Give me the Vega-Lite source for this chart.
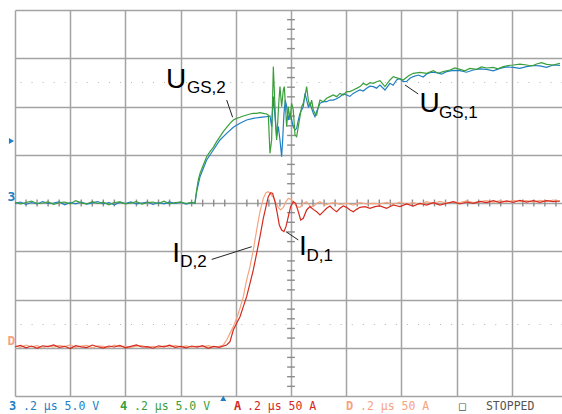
{
"$schema": "https://vega.github.io/schema/vega-lite/v6.json",
"width": 547, "height": 386,
"autosize": {"type": "none"},
"padding": {"left": 15, "top": 10, "right": 0, "bottom": 18},
"background": "white",
"config": {"view": {"stroke": null}, "axis": {"title": null, "labels": false, "domain": false, "ticks": false, "grid": false}},
"datasets": {
"volt": [
{"ch":"3","t":0,"v":-0.05},{"ch":"3","t":20,"v":0.1},{"ch":"3","t":40,"v":-0.15},{"ch":"3","t":60,"v":0.05},{"ch":"3","t":80,"v":-0.1},{"ch":"3","t":100,"v":0.15},{"ch":"3","t":120,"v":-0.05},{"ch":"3","t":140,"v":0},{"ch":"3","t":160,"v":0.12},{"ch":"3","t":180,"v":-0.18},{"ch":"3","t":200,"v":0.05},{"ch":"3","t":220,"v":-0.08},{"ch":"3","t":240,"v":0.1},{"ch":"3","t":260,"v":-0.12},{"ch":"3","t":280,"v":0.02},{"ch":"3","t":300,"v":0.15},{"ch":"3","t":320,"v":-0.1},{"ch":"3","t":340,"v":0.05},{"ch":"3","t":360,"v":-0.2},{"ch":"3","t":380,"v":0.08},{"ch":"3","t":400,"v":-0.05},{"ch":"3","t":420,"v":0.12},{"ch":"3","t":440,"v":-0.1},{"ch":"3","t":460,"v":0},{"ch":"3","t":480,"v":0.1},{"ch":"3","t":500,"v":-0.15},{"ch":"3","t":520,"v":0.05},{"ch":"3","t":540,"v":-0.08},{"ch":"3","t":560,"v":0.12},{"ch":"3","t":580,"v":-0.05},{"ch":"3","t":600,"v":0.08},{"ch":"3","t":620,"v":-0.12},{"ch":"3","t":640,"v":0.03},
{"ch":"3","t":652.1,"v":-0.03},{"ch":"3","t":658.2,"v":1.18},{"ch":"3","t":670.3,"v":2.73},{"ch":"3","t":694.4,"v":4.46},{"ch":"3","t":718.6,"v":5.49},{"ch":"3","t":742.7,"v":6.53},{"ch":"3","t":766.9,"v":7.22},{"ch":"3","t":791,"v":7.84},{"ch":"3","t":815.2,"v":8.26},{"ch":"3","t":839.3,"v":8.6},{"ch":"3","t":863.5,"v":8.77},{"ch":"3","t":887.6,"v":8.88},{"ch":"3","t":911.8,"v":8.95},{"ch":"3","t":923.9,"v":9.02},{"ch":"3","t":929.9,"v":7.91},{"ch":"3","t":936,"v":11.02},{"ch":"3","t":942,"v":8.95},{"ch":"3","t":948,"v":6.87},{"ch":"3","t":954.1,"v":7.91},{"ch":"3","t":960.1,"v":6.53},{"ch":"3","t":966.1,"v":4.8},{"ch":"3","t":969.8,"v":6.53},{"ch":"3","t":974.6,"v":9.29},{"ch":"3","t":979.4,"v":10.67},{"ch":"3","t":984.3,"v":9.98},{"ch":"3","t":990.3,"v":8.6},{"ch":"3","t":996.3,"v":9.29},{"ch":"3","t":1002.4,"v":8.6},{"ch":"3","t":1008.4,"v":7.91},{"ch":"3","t":1014.5,"v":7.57},{"ch":"3","t":1020.5,"v":7.74},{"ch":"3","t":1026.5,"v":8.6},{"ch":"3","t":1032.6,"v":9.29},{"ch":"3","t":1044.6,"v":9.98},{"ch":"3","t":1050.7,"v":11.36},{"ch":"3","t":1056.7,"v":10.67},{"ch":"3","t":1062.8,"v":9.98},{"ch":"3","t":1068.8,"v":10.33},{"ch":"3","t":1080.9,"v":9.29},{"ch":"3","t":1086.9,"v":8.95},{"ch":"3","t":1093,"v":9.46},{"ch":"3","t":1105,"v":10.33},{"ch":"3","t":1117.1,"v":10.5},{"ch":"3","t":1129.2,"v":10.5},{"ch":"3","t":1141.3,"v":10.67},{"ch":"3","t":1153.3,"v":10.67},{"ch":"3","t":1165,"v":10.8},{"ch":"3","t":1177.5,"v":11.02},{"ch":"3","t":1189,"v":11.3},{"ch":"3","t":1201.7,"v":11.19},{"ch":"3","t":1213,"v":11.05},{"ch":"3","t":1225.8,"v":11.36},{"ch":"3","t":1238,"v":11.55},{"ch":"3","t":1250,"v":11.71},{"ch":"3","t":1262,"v":11.6},{"ch":"3","t":1274.1,"v":11.88},{"ch":"3","t":1286,"v":12.1},{"ch":"3","t":1298.3,"v":12.06},{"ch":"3","t":1310,"v":11.9},{"ch":"3","t":1322.4,"v":12.23},{"ch":"3","t":1340.5,"v":11.71},{"ch":"3","t":1358.6,"v":12.4},{"ch":"3","t":1370,"v":12.2},{"ch":"3","t":1382.7,"v":12.75},{"ch":"3","t":1394,"v":12.9},{"ch":"3","t":1406.9,"v":12.57},{"ch":"3","t":1419,"v":12.6},{"ch":"3","t":1431.1,"v":12.92},{"ch":"3","t":1443,"v":13.1},{"ch":"3","t":1461.2,"v":13.26},{"ch":"3","t":1479,"v":13.05},{"ch":"3","t":1491.4,"v":13.37},{"ch":"3","t":1509,"v":13.55},{"ch":"3","t":1527.7,"v":13.51},{"ch":"3","t":1545,"v":13.35},{"ch":"3","t":1563.9,"v":13.61},{"ch":"3","t":1588,"v":13.75},{"ch":"3","t":1612.2,"v":13.71},{"ch":"3","t":1636,"v":13.55},{"ch":"3","t":1660.5,"v":13.78},{"ch":"3","t":1684,"v":13.9},{"ch":"3","t":1708.8,"v":13.85},{"ch":"3","t":1733,"v":13.7},{"ch":"3","t":1757.1,"v":13.95},{"ch":"3","t":1781,"v":14.1},{"ch":"3","t":1805.4,"v":14.06},{"ch":"3","t":1829,"v":13.95},{"ch":"3","t":1853.7,"v":14.13},{"ch":"3","t":1878,"v":14.25},{"ch":"3","t":1902,"v":14.2},{"ch":"3","t":1926,"v":14.05},{"ch":"3","t":1950,"v":14.3},{"ch":"3","t":1974.5,"v":14.27},
{"ch":"4","t":0,"v":0.08},{"ch":"4","t":20,"v":-0.1},{"ch":"4","t":40,"v":0.05},{"ch":"4","t":60,"v":0.2},{"ch":"4","t":80,"v":-0.05},{"ch":"4","t":100,"v":0},{"ch":"4","t":120,"v":0.12},{"ch":"4","t":140,"v":-0.15},{"ch":"4","t":160,"v":0.05},{"ch":"4","t":180,"v":0.1},{"ch":"4","t":200,"v":-0.08},{"ch":"4","t":220,"v":0.25},{"ch":"4","t":240,"v":0.02},{"ch":"4","t":260,"v":-0.1},{"ch":"4","t":280,"v":0.15},{"ch":"4","t":300,"v":-0.05},{"ch":"4","t":320,"v":0.08},{"ch":"4","t":340,"v":-0.18},{"ch":"4","t":360,"v":0.05},{"ch":"4","t":380,"v":0.12},{"ch":"4","t":400,"v":-0.08},{"ch":"4","t":420,"v":0},{"ch":"4","t":440,"v":0.15},{"ch":"4","t":460,"v":-0.12},{"ch":"4","t":480,"v":0.05},{"ch":"4","t":500,"v":0.1},{"ch":"4","t":520,"v":-0.05},{"ch":"4","t":540,"v":0.18},{"ch":"4","t":560,"v":-0.1},{"ch":"4","t":580,"v":0.05},{"ch":"4","t":600,"v":0.1},{"ch":"4","t":620,"v":-0.05},{"ch":"4","t":640,"v":0.06},
{"ch":"4","t":652.1,"v":0},{"ch":"4","t":658.2,"v":1.35},{"ch":"4","t":664.2,"v":2.4},{"ch":"4","t":670.3,"v":3.07},{"ch":"4","t":682.3,"v":3.94},{"ch":"4","t":694.4,"v":4.8},{"ch":"4","t":706.5,"v":5.32},{"ch":"4","t":718.6,"v":5.77},{"ch":"4","t":730.6,"v":6.36},{"ch":"4","t":742.7,"v":6.87},{"ch":"4","t":754.8,"v":7.39},{"ch":"4","t":766.9,"v":7.84},{"ch":"4","t":779,"v":8.26},{"ch":"4","t":791,"v":8.6},{"ch":"4","t":803.1,"v":8.77},{"ch":"4","t":815.2,"v":8.88},{"ch":"4","t":827.3,"v":9.02},{"ch":"4","t":839.3,"v":9.12},{"ch":"4","t":851.4,"v":9.22},{"ch":"4","t":863.5,"v":9.29},{"ch":"4","t":875.6,"v":9.29},{"ch":"4","t":887.6,"v":9.36},{"ch":"4","t":899.7,"v":9.29},{"ch":"4","t":911.8,"v":9.22},{"ch":"4","t":917.8,"v":9.12},{"ch":"4","t":923.9,"v":5.15},{"ch":"4","t":929.9,"v":6.53},{"ch":"4","t":936,"v":14.13},{"ch":"4","t":939.6,"v":11.71},{"ch":"4","t":944.4,"v":8.26},{"ch":"4","t":948,"v":6.53},{"ch":"4","t":951.7,"v":8.26},{"ch":"4","t":956.5,"v":10.67},{"ch":"4","t":960.1,"v":12.06},{"ch":"4","t":966.1,"v":9.98},{"ch":"4","t":972.2,"v":11.71},{"ch":"4","t":975.8,"v":12.06},{"ch":"4","t":979.4,"v":10.33},{"ch":"4","t":984.3,"v":7.91},{"ch":"4","t":990.3,"v":9.98},{"ch":"4","t":996.3,"v":8.6},{"ch":"4","t":1002.4,"v":10.33},{"ch":"4","t":1008.4,"v":9.64},{"ch":"4","t":1014.5,"v":7.05},{"ch":"4","t":1020.5,"v":6.87},{"ch":"4","t":1026.5,"v":7.91},{"ch":"4","t":1032.6,"v":8.95},{"ch":"4","t":1038.6,"v":9.98},{"ch":"4","t":1044.6,"v":10.33},{"ch":"4","t":1050.7,"v":11.02},{"ch":"4","t":1056.7,"v":12.06},{"ch":"4","t":1062.8,"v":10.67},{"ch":"4","t":1068.8,"v":9.98},{"ch":"4","t":1074.8,"v":10.67},{"ch":"4","t":1080.9,"v":9.64},{"ch":"4","t":1086.9,"v":9.29},{"ch":"4","t":1093,"v":9.12},{"ch":"4","t":1099,"v":9.98},{"ch":"4","t":1105,"v":10.67},{"ch":"4","t":1117.1,"v":10.5},{"ch":"4","t":1129.2,"v":10.85},{"ch":"4","t":1141.3,"v":11.02},{"ch":"4","t":1153.3,"v":11.19},{"ch":"4","t":1165.4,"v":11.02},{"ch":"4","t":1177.5,"v":11.36},{"ch":"4","t":1189.6,"v":11.19},{"ch":"4","t":1201.7,"v":11.54},{"ch":"4","t":1213.7,"v":11.54},{"ch":"4","t":1225.8,"v":11.71},{"ch":"4","t":1237.9,"v":11.88},{"ch":"4","t":1250,"v":12.06},{"ch":"4","t":1262,"v":12.4},{"ch":"4","t":1274.1,"v":12.23},{"ch":"4","t":1286.2,"v":12.47},{"ch":"4","t":1298.3,"v":12.4},{"ch":"4","t":1310.3,"v":12.57},{"ch":"4","t":1322.4,"v":12.68},{"ch":"4","t":1340.5,"v":12.06},{"ch":"4","t":1358.6,"v":12.75},{"ch":"4","t":1370.7,"v":13.09},{"ch":"4","t":1388.8,"v":12.92},{"ch":"4","t":1406.9,"v":12.75},{"ch":"4","t":1425,"v":13.16},{"ch":"4","t":1443.1,"v":13.44},{"ch":"4","t":1467.3,"v":13.54},{"ch":"4","t":1491.4,"v":13.44},{"ch":"4","t":1515.6,"v":13.71},{"ch":"4","t":1533,"v":13.45},{"ch":"4","t":1551.8,"v":13.61},{"ch":"4","t":1576,"v":13.78},{"ch":"4","t":1594,"v":14},{"ch":"4","t":1612.2,"v":13.85},{"ch":"4","t":1630,"v":13.7},{"ch":"4","t":1648.4,"v":13.95},{"ch":"4","t":1672.6,"v":13.85},{"ch":"4","t":1690,"v":14.1},{"ch":"4","t":1708.8,"v":13.99},{"ch":"4","t":1733,"v":14.06},{"ch":"4","t":1750,"v":13.9},{"ch":"4","t":1769.2,"v":14.13},{"ch":"4","t":1787,"v":14.25},{"ch":"4","t":1805.4,"v":14.3},{"ch":"4","t":1829.6,"v":14.4},{"ch":"4","t":1853.7,"v":14.3},{"ch":"4","t":1872,"v":14.2},{"ch":"4","t":1890,"v":14.4},{"ch":"4","t":1908,"v":14.55},{"ch":"4","t":1926.2,"v":14.37},{"ch":"4","t":1950,"v":14.3},{"ch":"4","t":1974.5,"v":14.47}
],
"curr": [
{"ch":"D","t":0,"i":2},{"ch":"D","t":20,"i":0.5},{"ch":"D","t":40,"i":2.8},{"ch":"D","t":60,"i":1},{"ch":"D","t":80,"i":2.2},{"ch":"D","t":100,"i":-0.2},{"ch":"D","t":120,"i":1.8},{"ch":"D","t":140,"i":0.6},{"ch":"D","t":160,"i":2.5},{"ch":"D","t":180,"i":1.2},{"ch":"D","t":200,"i":3},{"ch":"D","t":220,"i":0.4},{"ch":"D","t":240,"i":1.6},{"ch":"D","t":260,"i":2.4},{"ch":"D","t":280,"i":0},{"ch":"D","t":300,"i":2},{"ch":"D","t":320,"i":1.5},{"ch":"D","t":340,"i":0.2},{"ch":"D","t":360,"i":2.6},{"ch":"D","t":380,"i":1},{"ch":"D","t":400,"i":1.8},{"ch":"D","t":420,"i":0.3},{"ch":"D","t":440,"i":1.6},{"ch":"D","t":460,"i":2.2},{"ch":"D","t":480,"i":0.5},{"ch":"D","t":500,"i":1.4},{"ch":"D","t":520,"i":0.2},{"ch":"D","t":540,"i":2},{"ch":"D","t":560,"i":0.8},{"ch":"D","t":580,"i":2.4},{"ch":"D","t":600,"i":1},{"ch":"D","t":620,"i":2},{"ch":"D","t":640,"i":0.4},{"ch":"D","t":660,"i":1.6},{"ch":"D","t":680,"i":1},{"ch":"D","t":700,"i":2.2},{"ch":"D","t":720,"i":0.8},{"ch":"D","t":740,"i":1.5},
{"ch":"D","t":754.8,"i":2.9},{"ch":"D","t":766.9,"i":8},{"ch":"D","t":779,"i":14.9},{"ch":"D","t":791,"i":21.9},{"ch":"D","t":803.1,"i":30.5},{"ch":"D","t":815.2,"i":40.9},{"ch":"D","t":827.3,"i":52.9},{"ch":"D","t":839.3,"i":70.2},{"ch":"D","t":851.4,"i":84},{"ch":"D","t":863.5,"i":101.3},{"ch":"D","t":875.6,"i":122},{"ch":"D","t":887.6,"i":141},{"ch":"D","t":899.7,"i":154.8},{"ch":"D","t":909.4,"i":160.7},{"ch":"D","t":917.8,"i":161.7},{"ch":"D","t":926.3,"i":159.3},{"ch":"D","t":936,"i":155.9},{"ch":"D","t":945.6,"i":149.7},{"ch":"D","t":954.1,"i":145.5},{"ch":"D","t":962.5,"i":142.8},{"ch":"D","t":972.2,"i":145.5},{"ch":"D","t":981.8,"i":151.4},{"ch":"D","t":990.3,"i":154.8},{"ch":"D","t":999.9,"i":153.8},{"ch":"D","t":1008.4,"i":151.4},{"ch":"D","t":1020.5,"i":146.2},{"ch":"D","t":1032.6,"i":145.5},{"ch":"D","t":1044.6,"i":149.7},{"ch":"D","t":1056.7,"i":151.4},{"ch":"D","t":1068.8,"i":146.9},{"ch":"D","t":1080.9,"i":146.2},{"ch":"D","t":1093,"i":149.7},{"ch":"D","t":1105,"i":151.4},{"ch":"D","t":1123.1,"i":147.9},{"ch":"D","t":1141.3,"i":149.7},{"ch":"D","t":1159.4,"i":150.4},{"ch":"D","t":1177.5,"i":148.6},{"ch":"D","t":1201.7,"i":149.7},{"ch":"D","t":1225.8,"i":147.9},{"ch":"D","t":1250,"i":150.4},{"ch":"D","t":1274.1,"i":149},{"ch":"D","t":1298.3,"i":149.7},{"ch":"D","t":1322.4,"i":149},{"ch":"D","t":1346.5,"i":150.7},{"ch":"D","t":1370.7,"i":148.6},{"ch":"D","t":1394.8,"i":151},{"ch":"D","t":1419,"i":149},{"ch":"D","t":1443.1,"i":150.4},{"ch":"D","t":1467.3,"i":148.3},{"ch":"D","t":1491.4,"i":151.4},{"ch":"D","t":1515.6,"i":149.7},{"ch":"D","t":1539.7,"i":151.7},{"ch":"D","t":1563.9,"i":150},{"ch":"D","t":1588.1,"i":151},{"ch":"D","t":1612.2,"i":150.4},{"ch":"D","t":1636.4,"i":152.1},{"ch":"D","t":1660.5,"i":150.4},{"ch":"D","t":1684.7,"i":151.4},{"ch":"D","t":1708.8,"i":152.4},{"ch":"D","t":1733,"i":150.7},{"ch":"D","t":1757.1,"i":152.4},{"ch":"D","t":1781.3,"i":151},{"ch":"D","t":1805.4,"i":152.8},{"ch":"D","t":1829.6,"i":151.4},{"ch":"D","t":1853.7,"i":152.4},{"ch":"D","t":1877.9,"i":151},{"ch":"D","t":1902,"i":152.8},{"ch":"D","t":1926.2,"i":151.7},{"ch":"D","t":1950.3,"i":153.1},{"ch":"D","t":1974.5,"i":151.7},
{"ch":"A","t":0,"i":1},{"ch":"A","t":20,"i":2.5},{"ch":"A","t":40,"i":0},{"ch":"A","t":60,"i":1.8},{"ch":"A","t":80,"i":-0.5},{"ch":"A","t":100,"i":2},{"ch":"A","t":120,"i":1.2},{"ch":"A","t":140,"i":3},{"ch":"A","t":160,"i":0.5},{"ch":"A","t":180,"i":1.5},{"ch":"A","t":200,"i":-0.8},{"ch":"A","t":220,"i":2.2},{"ch":"A","t":240,"i":1},{"ch":"A","t":260,"i":0.2},{"ch":"A","t":280,"i":2.8},{"ch":"A","t":300,"i":1},{"ch":"A","t":320,"i":-0.3},{"ch":"A","t":340,"i":1.8},{"ch":"A","t":360,"i":0.8},{"ch":"A","t":380,"i":2.5},{"ch":"A","t":400,"i":0},{"ch":"A","t":420,"i":1.5},{"ch":"A","t":440,"i":3},{"ch":"A","t":460,"i":0.8},{"ch":"A","t":480,"i":1.2},{"ch":"A","t":500,"i":-0.5},{"ch":"A","t":520,"i":2},{"ch":"A","t":540,"i":1},{"ch":"A","t":560,"i":2.6},{"ch":"A","t":580,"i":0.4},{"ch":"A","t":600,"i":1.5},{"ch":"A","t":620,"i":-0.2},{"ch":"A","t":640,"i":1.8},{"ch":"A","t":660,"i":0.6},{"ch":"A","t":680,"i":2.2},{"ch":"A","t":700,"i":-0.6},{"ch":"A","t":720,"i":1.4},{"ch":"A","t":740,"i":0.5},
{"ch":"A","t":766.9,"i":2.9},{"ch":"A","t":779,"i":6.3},{"ch":"A","t":791,"i":18.4},{"ch":"A","t":803.1,"i":25.3},{"ch":"A","t":815.2,"i":32.2},{"ch":"A","t":827.3,"i":42.6},{"ch":"A","t":839.3,"i":52.9},{"ch":"A","t":851.4,"i":66.8},{"ch":"A","t":863.5,"i":80.6},{"ch":"A","t":875.6,"i":97.9},{"ch":"A","t":887.6,"i":115.1},{"ch":"A","t":899.7,"i":134.1},{"ch":"A","t":909.4,"i":146.2},{"ch":"A","t":917.8,"i":156.6},{"ch":"A","t":926.3,"i":160.7},{"ch":"A","t":933.5,"i":160},{"ch":"A","t":942,"i":151.4},{"ch":"A","t":950.4,"i":139.3},{"ch":"A","t":957.7,"i":127.2},{"ch":"A","t":966.1,"i":122},{"ch":"A","t":974.6,"i":120.3},{"ch":"A","t":981.8,"i":125.5},{"ch":"A","t":990.3,"i":135.8},{"ch":"A","t":998.7,"i":146.2},{"ch":"A","t":1008.4,"i":151.4},{"ch":"A","t":1016.9,"i":149.7},{"ch":"A","t":1026.5,"i":141},{"ch":"A","t":1035,"i":132.4},{"ch":"A","t":1044.6,"i":134.1},{"ch":"A","t":1056.7,"i":142.8},{"ch":"A","t":1068.8,"i":146.2},{"ch":"A","t":1080.9,"i":143.4},{"ch":"A","t":1093,"i":141},{"ch":"A","t":1105,"i":137.6},{"ch":"A","t":1117.1,"i":141},{"ch":"A","t":1129.2,"i":144.5},{"ch":"A","t":1141.3,"i":146.9},{"ch":"A","t":1153.3,"i":143.4},{"ch":"A","t":1165.4,"i":141},{"ch":"A","t":1177.5,"i":144.5},{"ch":"A","t":1189.6,"i":146.9},{"ch":"A","t":1201.7,"i":145.5},{"ch":"A","t":1213.7,"i":142.8},{"ch":"A","t":1225.8,"i":141},{"ch":"A","t":1237.9,"i":143.4},{"ch":"A","t":1250,"i":145.5},{"ch":"A","t":1268.1,"i":146.2},{"ch":"A","t":1286.2,"i":144.5},{"ch":"A","t":1304.3,"i":146.2},{"ch":"A","t":1322.4,"i":147},{"ch":"A","t":1346.5,"i":144.5},{"ch":"A","t":1370.7,"i":147.9},{"ch":"A","t":1394.8,"i":146.2},{"ch":"A","t":1419,"i":149},{"ch":"A","t":1443.1,"i":146.9},{"ch":"A","t":1467.3,"i":149.7},{"ch":"A","t":1491.4,"i":147.9},{"ch":"A","t":1515.6,"i":150.4},{"ch":"A","t":1539.7,"i":147.9},{"ch":"A","t":1563.9,"i":149.7},{"ch":"A","t":1588.1,"i":151.4},{"ch":"A","t":1612.2,"i":149},{"ch":"A","t":1636.4,"i":151},{"ch":"A","t":1660.5,"i":149.7},{"ch":"A","t":1684.7,"i":151.7},{"ch":"A","t":1708.8,"i":150.4},{"ch":"A","t":1733,"i":152.4},{"ch":"A","t":1757.1,"i":150.4},{"ch":"A","t":1781.3,"i":152.1},{"ch":"A","t":1805.4,"i":150.7},{"ch":"A","t":1829.6,"i":152.8},{"ch":"A","t":1853.7,"i":151},{"ch":"A","t":1877.9,"i":152.4},{"ch":"A","t":1902,"i":150.7},{"ch":"A","t":1926.2,"i":152.4},{"ch":"A","t":1950.3,"i":151.4},{"ch":"A","t":1974.5,"i":152.1}
],
"xticks": [{"t":40},{"t":80},{"t":120},{"t":160},{"t":240},{"t":280},{"t":320},{"t":360},{"t":440},{"t":480},{"t":520},{"t":560},{"t":640},{"t":680},{"t":720},{"t":760},{"t":840},{"t":880},{"t":920},{"t":960},{"t":1040},{"t":1080},{"t":1120},{"t":1160},{"t":1240},{"t":1280},{"t":1320},{"t":1360},{"t":1440},{"t":1480},{"t":1520},{"t":1560},{"t":1640},{"t":1680},{"t":1720},{"t":1760},{"t":1840},{"t":1880},{"t":1920},{"t":1960}],
"yticks": [{"v":-19},{"v":-18},{"v":-17},{"v":-16},{"v":-14},{"v":-13},{"v":-12},{"v":-11},{"v":-9},{"v":-8},{"v":-7},{"v":-6},{"v":-4},{"v":-3},{"v":-2},{"v":-1},{"v":1},{"v":2},{"v":3},{"v":4},{"v":6},{"v":7},{"v":8},{"v":9},{"v":11},{"v":12},{"v":13},{"v":14},{"v":16},{"v":17},{"v":18},{"v":19}],
"bigLabels": [
{"label":"U","t":547,"v":11.92},
{"label":"U","t":1465.6,"v":9.43},
{"label":"I","t":570,"v":-6.11},
{"label":"I","t":1029.3,"v":-5.44}
],
"subLabels": [
{"label":"GS,2","t":623,"v":11.35},
{"label":"GS,1","t":1536,"v":8.86},
{"label":"D,2","t":599,"v":-6.63},
{"label":"D,1","t":1056.5,"v":-6.01}
],
"leaders": [
{"t":767,"v":10.67,"t2":788.5,"v2":8.88},
{"t":1413,"v":12.23,"t2":1461,"v2":11.3},
{"t":712.7,"v":-5.85,"t2":857.6,"v2":-4.53},
{"t":981.8,"v":-2.97,"t2":1026.5,"v2":-3.83}
],
"status": [
{"ch":"3","label":".2 μs 5.0 V","t":29},
{"ch":"4","label":".2 μs 5.0 V","t":431.1},
{"ch":"A","label":".2 μs 50 A","t":840.5},
{"ch":"D","label":".2 μs 50 A","t":1249.9},
{"ch":"S","label":"□","t":1608.6},
{"ch":"S","label":"STOPPED","t":1706.4}
],
"statusKeys": [
{"ch":"3","label":"3","t":-21.7},
{"ch":"4","label":"4","t":380.4},
{"ch":"A","label":"A","t":793.4},
{"ch":"D","label":"D","t":1199.2}
],
"markers": [
{"ch":"3","t":-12.7,"v":6.42,"shape":"triangle-right"},
{"ch":"3","t":754.7,"v":-20.24,"shape":"triangle-up"}
],
"groundKeys": [
{"ch":"3","label":"3","t":-13,"v":0.21},
{"ch":"D","label":"D","t":-13.4,"v":-14.72}
]
},
"resolve": {"scale": {"y": "independent"}, "axis": {"x": "independent", "y": "independent"}},
"layer": [
{
"data": {"name": "xticks"},
"mark": {"type": "rule", "color": "#8c8c8c", "strokeWidth": 1.4},
"encoding": {
"x": {"field": "t", "type": "quantitative", "scale": {"domain": [0, 1982], "nice": false, "zero": false},
 "axis": {"values": [0,200,400,600,800,1000,1200,1400,1600,1800], "grid": true, "gridColor": "#a3a3a3", "gridWidth": 1.5}},
"y": {"datum": -0.36, "type": "quantitative", "scale": {"domain": [-20, 20], "nice": false},
 "axis": {"values": [-20,-15,-10,-5,0,5,10,15,20], "grid": true, "gridColor": "#a3a3a3", "gridWidth": 1.5}},
"y2": {"datum": 0.36}
}
},
{
"data": {"name": "yticks"},
"mark": {"type": "rule", "color": "#8c8c8c", "strokeWidth": 1.4},
"encoding": {
"x": {"datum": 986, "type": "quantitative", "axis": null},
"x2": {"datum": 1014},
"y": {"field": "v", "type": "quantitative", "scale": {"domain": [-20, 20], "nice": false}, "axis": null}
}
},
{
"data": {"name": "volt"},
"mark": {"type": "line", "strokeWidth": 1.2, "clip": true},
"encoding": {
"x": {"field": "t", "type": "quantitative", "axis": null},
"y": {"field": "v", "type": "quantitative", "scale": {"domain": [-20, 20], "nice": false}, "axis": null},
"color": {"field": "ch", "type": "nominal", "legend": null,
 "scale": {"domain": ["3","4","A","D","S"], "range": ["#1f7fc4","#3a9f3a","#d42a1e","#f5a47f","#555555"]}}
}
},
{
"data": {"name": "curr"},
"mark": {"type": "line", "strokeWidth": 1.2, "clip": true},
"encoding": {
"x": {"field": "t", "type": "quantitative", "axis": null},
"y": {"field": "i", "type": "quantitative", "scale": {"domain": [-50, 350], "nice": false}, "axis": null},
"color": {"field": "ch", "type": "nominal", "legend": null}
}
},
{
"data": {"name": "bigLabels"},
"mark": {"type": "text", "font": "Liberation Sans", "fontSize": 28, "align": "left", "baseline": "alphabetic", "color": "#000000"},
"encoding": {
"x": {"field": "t", "type": "quantitative", "axis": null},
"y": {"field": "v", "type": "quantitative", "scale": {"domain": [-20, 20], "nice": false}, "axis": null},
"text": {"field": "label"}
}
},
{
"data": {"name": "subLabels"},
"mark": {"type": "text", "font": "Liberation Sans", "fontSize": 17, "align": "left", "baseline": "alphabetic", "color": "#000000"},
"encoding": {
"x": {"field": "t", "type": "quantitative", "axis": null},
"y": {"field": "v", "type": "quantitative", "scale": {"domain": [-20, 20], "nice": false}, "axis": null},
"text": {"field": "label"}
}
},
{
"data": {"name": "leaders"},
"mark": {"type": "rule", "color": "#222222", "strokeWidth": 1},
"encoding": {
"x": {"field": "t", "type": "quantitative", "axis": null},
"x2": {"field": "t2"},
"y": {"field": "v", "type": "quantitative", "scale": {"domain": [-20, 20], "nice": false},
 "axis": {"values": [-12.5, 12.5], "grid": true, "gridColor": "#b5b5b5", "gridWidth": 1, "gridDash": [1, 10.04]}},
"y2": {"field": "v2"}
}
},
{
"data": {"name": "status"},
"mark": {"type": "text", "font": "DejaVu Sans Mono", "fontSize": 11.5, "align": "left", "baseline": "alphabetic"},
"encoding": {
"x": {"field": "t", "type": "quantitative", "axis": null},
"y": {"datum": -21.45, "type": "quantitative", "scale": {"domain": [-20, 20], "nice": false}, "axis": null},
"text": {"field": "label"},
"color": {"field": "ch", "type": "nominal", "legend": null}
}
},
{
"data": {"name": "statusKeys"},
"mark": {"type": "text", "font": "DejaVu Sans Mono", "fontSize": 12, "fontWeight": "bold", "align": "left", "baseline": "alphabetic"},
"encoding": {
"x": {"field": "t", "type": "quantitative", "axis": null},
"y": {"datum": -21.45, "type": "quantitative", "scale": {"domain": [-20, 20], "nice": false}, "axis": null},
"text": {"field": "label"},
"color": {"field": "ch", "type": "nominal", "legend": null}
}
},
{
"data": {"name": "markers"},
"mark": {"type": "point", "filled": true, "size": 35, "opacity": 1},
"encoding": {
"x": {"field": "t", "type": "quantitative", "axis": null},
"y": {"field": "v", "type": "quantitative", "scale": {"domain": [-20, 20], "nice": false}, "axis": null},
"shape": {"field": "shape", "type": "nominal", "scale": null, "legend": null},
"color": {"field": "ch", "type": "nominal", "legend": null}
}
},
{
"data": {"name": "groundKeys"},
"mark": {"type": "text", "font": "DejaVu Sans Mono", "fontSize": 13, "fontWeight": "bold", "align": "center", "baseline": "alphabetic"},
"encoding": {
"x": {"field": "t", "type": "quantitative", "axis": null},
"y": {"field": "v", "type": "quantitative", "scale": {"domain": [-20, 20], "nice": false}, "axis": null},
"text": {"field": "label"},
"color": {"field": "ch", "type": "nominal", "legend": null}
}
}
]
}
